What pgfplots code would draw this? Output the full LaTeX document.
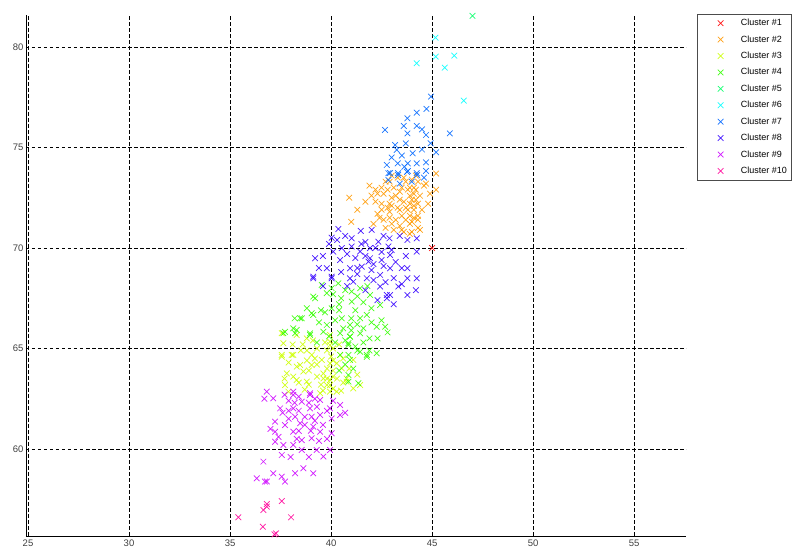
\documentclass[border=0pt]{standalone}
\usepackage{pgfplots}
\pgfplotsset{compat=1.18}
\usepackage{fontspec}
\setmainfont{Liberation Sans}
\definecolor{cA}{rgb}{1,0,0}
\definecolor{cB}{rgb}{1,0.6,0}
\definecolor{cC}{rgb}{0.8,1,0}
\definecolor{cD}{rgb}{0.2,1,0}
\definecolor{cE}{rgb}{0,1,0.4}
\definecolor{cF}{rgb}{0,1,1}
\definecolor{cG}{rgb}{0,0.4,1}
\definecolor{cH}{rgb}{0.2,0,1}
\definecolor{cI}{rgb}{0.8,0,1}
\definecolor{cJ}{rgb}{1,0,0.6}
\begin{document}
\begin{tikzpicture}
\path[use as bounding box] (-26pt,-12pt) rectangle (766pt,536pt);
\begin{axis}[
  at={(0,0)}, anchor=south west,
  scale only axis, width=660pt, height=521pt,
  xmin=24.9, xmax=57.57, ymin=55.67, ymax=81.59,
  axis x line*=bottom, axis y line*=left,
  axis line style={black, line width=0.8pt},
  xtick={25,30,...,55}, ytick={60,65,...,80},
  grid=major,
  major grid style={black, line width=0.6pt, dash pattern=on 3.5pt off 2.5pt},
  tick align=inside, major tick length=3pt,
  tick style={black},
  tick label style={font=\fontsize{9.5}{10}\selectfont, text=black!75},
  yticklabel style={xshift=1pt},
  /pgf/number format/assume math mode=true,
  every axis plot/.append style={only marks, mark=x, mark size=4pt, mark options={line width=0.7pt, opacity=0.9}},
  legend image code/.code={\path (0pt,0pt) (39pt,0pt); \draw[#1] plot coordinates {(21pt,0pt)};},
  legend style={at={(rel axis cs:1.017,1.002)}, anchor=north west,
    font=\fontsize{9}{10}\selectfont, draw=black!70, fill=white,
    row sep=4.4pt, inner xsep=2pt, inner ysep=3pt},
  legend cell align=left,
  clip=false,
]
\addplot[color=cA] coordinates {(45.0,70.0)};
\addplot[color=cB] coordinates {
(41.9,73.1)(42.2,72.3)(42.3,71.7)(42.6,72.7)(42.5,73.0)(42.8,72.0)(42.9,71.5)(43.0,72.5)
(43.1,73.0)(43.0,71.2)(43.3,72.0)(43.4,72.8)(43.5,71.6)(43.5,70.9)(43.6,72.3)(43.7,73.3)
(43.8,71.9)(43.9,72.6)(44.0,71.3)(44.0,70.8)(44.1,72.1)(44.2,72.9)(44.3,71.6)(44.3,71.0)
(44.0,73.4)(43.2,71.4)(42.7,71.0)(42.4,71.5)(41.3,71.9)(40.9,72.5)(41.0,71.3)(44.6,73.1)
(44.7,73.2)(45.2,73.7)(45.2,72.9)(44.8,72.2)(43.6,70.8)(43.9,70.7)(42.9,73.3)(43.3,73.5)
(44.2,72.4)(43.7,72.0)(43.0,72.1)(42.6,71.4)(44.4,72.6)(43.5,73.0)(42.1,71.2)(44.1,71.5)
(42.3,72.7)(43.2,72.6)(43.8,72.9)(44.3,73.3)(43.9,71.2)(44.4,70.9)(42.8,72.9)(43.4,71.1)
(42.9,72.2)(42.9,71.8)(43.4,72.4)(43.4,71.9)(43.9,73.0)(43.9,72.2)(43.9,71.6)(44.1,72.7)
(44.1,73.0)(44.1,71.9)(44.3,72.2)(44.3,71.4)(42.5,72.2)(42.5,71.9)(42.2,72.9)(43.1,70.9)
(43.7,71.4)(44.0,72.4)(43.6,73.5)(42.7,73.3)(44.2,73.6)(43.0,73.6)(42.0,72.6)(41.7,72.3)
(44.5,71.9)(44.9,72.7)};
\addplot[color=cC] coordinates {
(37.64,65.26)(37.56,64.68)(38.13,64.68)(38.47,64.18)(37.81,63.76)(38.13,63.6)(39.04,64.68)
(39.04,64.18)(38.63,63.85)(39.54,64.43)(39.62,63.76)(39.95,65.17)(39.95,64.26)(39.95,63.43)
(39.95,62.85)(39.79,63.18)(40.28,64.26)(40.53,64.01)(38.3,65.67)(37.89,62.85)(38.3,63.43)
(38.8,63.35)(39.62,63.51)(39.95,63.18)(40.28,62.85)(40.77,63.51)(41.1,63.01)(37.56,65.76)
(37.56,64.59)(37.72,63.18)(38.05,64.68)(39.95,65.67)(39.95,65.34)(40.45,64.68)(41.1,64.43)
(41.44,63.18)(40.77,63.35)(39.46,62.77)(38.8,64.9)(39.3,65.0)(38.6,65.2)(39.5,63.2)
(40.1,63.9)(40.6,63.3)(38.9,63.9)(39.2,64.5)(40.0,64.6)(40.4,65.2)(38.3,64.1)(39.7,65.3)
(38.8,65.5)(38.8,64.4)(39.3,64.2)(39.3,63.6)(39.8,64.9)(39.8,64.0)(39.8,63.5)(40.1,65.0)
(40.1,64.4)(40.1,63.6)(40.1,63.0)(38.5,64.9)(38.1,65.2)(37.9,64.3)(38.9,63.2)(39.1,65.4)
(40.3,63.5)(40.6,64.5)(41.3,63.7)(40.9,64.0)(38.4,63.3)(37.7,63.5)(39.6,62.9)(40.5,62.9)
(38.7,62.95)};
\addplot[color=cD] coordinates {
(40.03,68.0)(39.21,67.5)(39.54,68.16)(40.36,68.24)(41.02,67.83)(41.02,67.33)(41.44,68.0)
(41.93,67.66)(42.43,67.16)(39.12,66.67)(38.47,66.5)(38.96,65.75)(38.13,66.0)(39.79,66.17)
(40.03,67.0)(40.53,66.5)(40.94,66.17)(40.94,65.59)(41.44,66.5)(41.77,66.67)(42.26,66.08)
(42.68,66.08)(41.44,65.75)(40.86,65.17)(41.44,64.84)(41.77,64.59)(40.45,64.68)(40.94,64.43)
(37.64,65.76)(38.22,65.76)(38.96,65.67)(39.62,65.83)(40.94,65.59)(40.86,65.26)(40.86,64.68)
(40.86,63.68)(40.86,63.35)(41.77,64.68)(42.26,64.76)(41.35,63.27)(40.45,65.76)(37.72,65.83)
(38.3,65.92)(38.55,66.5)(39.04,66.75)(39.12,67.58)(39.79,67.75)(40.5,67.5)(41.2,66.9)
(40.2,66.4)(39.5,66.9)(41.6,67.3)(41.9,65.5)(42.0,66.3)(40.6,66.0)(41.2,65.1)
(40.4,67.2)(40.4,66.9)(40.7,67.9)(40.7,65.4)(41.0,66.5)(41.0,65.9)(41.3,67.6)(41.3,66.2)
(41.3,64.9)(41.6,66.0)(41.6,65.3)(41.9,64.9)(42.3,65.5)(42.5,66.4)(39.7,66.8)(39.4,66.3)
(39.9,65.6)(40.2,65.3)(40.7,64.2)(41.1,64.0)(40.4,63.9)(42.0,67.0)(41.8,68.1)(40.1,67.7)
(38.8,67.0)(38.2,66.5)(39.3,65.3)(42.8,65.8)};
\addplot[color=cE] coordinates {(47.0,81.55)};
\addplot[color=cF] coordinates {
(45.17,80.46)(45.18,79.52)(46.1,79.57)(44.24,79.19)(45.63,78.97)(46.57,77.33)};
\addplot[color=cG] coordinates {
(44.95,77.53)(44.72,76.92)(44.24,76.73)(43.78,76.45)(43.6,76.07)(44.24,76.07)(42.67,75.87)
(43.78,75.7)(44.7,75.62)(45.88,75.7)(43.17,75.12)(43.25,74.88)(44.04,74.71)(44.93,75.21)
(45.2,74.76)(42.76,74.13)(43.3,74.21)(43.8,74.21)(44.24,74.21)(44.7,74.26)(42.84,73.72)
(43.32,73.72)(43.8,73.83)(44.24,73.72)(44.7,73.83)(42.84,73.38)(43.63,74.04)(42.92,73.73)
(43.32,73.63)(43.76,73.78)(44.26,73.63)(43.7,75.2)(44.5,75.9)
(43.0,74.5)(43.5,74.6)(44.5,74.9)(44.0,73.3)(44.6,73.5)(43.4,73.2)};
\addplot[color=cH] coordinates {
(40.36,70.94)(40.03,70.51)(41.02,70.48)(41.47,70.85)(42.01,70.9)(42.89,70.48)(43.78,70.4)
(44.24,70.48)(39.21,69.49)(39.12,68.57)(40.03,68.57)(39.79,68.99)(40.53,69.99)(40.94,68.99)
(41.44,69.82)(41.93,69.49)(42.43,68.66)(42.92,69.65)(42.92,68.99)(42.43,68.08)(42.76,67.66)
(43.33,68.08)(43.78,68.99)(43.78,68.49)(43.78,67.66)(44.24,68.49)(44.24,69.82)(41.85,69.32)
(41.52,69.07)(41.02,70.07)(41.1,68.32)(42.92,67.66)(41.93,69.99)(42.34,70.31)(42.84,70.07)
(40.45,69.4)(40.11,69.82)(39.12,68.49)(40.03,68.49)(40.94,68.49)(41.77,68.49)(42.76,67.5)
(41.5,70.2)(42.5,69.8)(43.2,69.3)(40.7,70.6)(42.0,68.9)(43.4,70.6)(41.2,69.5)(42.6,70.6)
(41.3,69.0)(41.3,68.7)(41.7,70.3)(41.7,69.6)(42.1,69.2)(42.1,68.4)(42.2,70.0)(42.5,69.4)
(42.6,69.1)(42.7,68.3)(43.0,69.9)(43.1,68.5)(43.5,69.0)(43.5,68.2)(40.5,68.8)(40.3,70.4)
(39.6,69.6)(39.4,69.0)(40.8,69.7)(39.9,70.2)(44.2,67.9)(43.7,69.6)(41.7,67.9)(42.3,67.4)
(43.1,67.2)(40.8,68.1)(39.6,68.1)};
\addplot[color=cI] coordinates {
(36.82,62.85)(37.14,62.52)(37.48,62.02)(37.23,61.36)(37.23,60.86)(37.23,60.36)(37.72,61.19)
(38.13,62.69)(38.13,62.02)(38.22,61.6)(38.55,62.35)(38.96,62.69)(38.96,62.02)(39.04,61.6)
(39.46,62.44)(39.46,61.69)(39.12,61.11)(38.47,61.28)(38.13,60.86)(38.55,60.44)(39.04,60.53)
(39.46,60.86)(39.95,62.02)(40.03,61.52)(40.45,62.19)(40.45,61.69)(40.03,60.78)(39.95,59.95)
(37.64,60.2)(38.13,60.2)(38.55,59.95)(39.29,59.95)(39.62,59.62)(36.65,59.37)(37.14,58.79)
(37.56,58.62)(36.32,58.54)(36.82,58.38)(38.22,58.79)(38.63,59.04)(39.12,58.79)(37.72,58.38)
(37.56,59.7)(36.73,58.38)(38.13,62.85)(38.96,62.77)(38.4,61.9)(39.3,62.1)(37.9,61.5)
(37.9,62.4)(37.9,61.9)(38.2,62.3)(38.4,62.6)(38.4,60.9)(38.7,61.6)(38.7,61.2)(38.9,62.3)
(39.0,60.9)(39.2,62.5)(39.2,61.4)(39.4,60.4)(39.8,61.9)(39.8,60.5)(38.3,60.5)(37.6,61.8)
(37.4,60.6)(38.0,59.6)(38.9,59.6)(40.1,62.4)(40.7,61.8)(37.0,61.0)(36.7,62.5)(37.7,62.7)
(39.6,61.2)};
\addplot[color=cJ] coordinates {
(35.41,56.6)(36.65,56.96)(36.82,57.26)(37.56,57.41)(38.02,56.6)(36.62,56.13)(37.28,55.8)
(36.82,57.13)(37.2,55.75)};
\legend{Cluster \#1,Cluster \#2,Cluster \#3,Cluster \#4,Cluster \#5,Cluster \#6,Cluster \#7,Cluster \#8,Cluster \#9,Cluster \#10}
\end{axis}
\end{tikzpicture}
\end{document}
